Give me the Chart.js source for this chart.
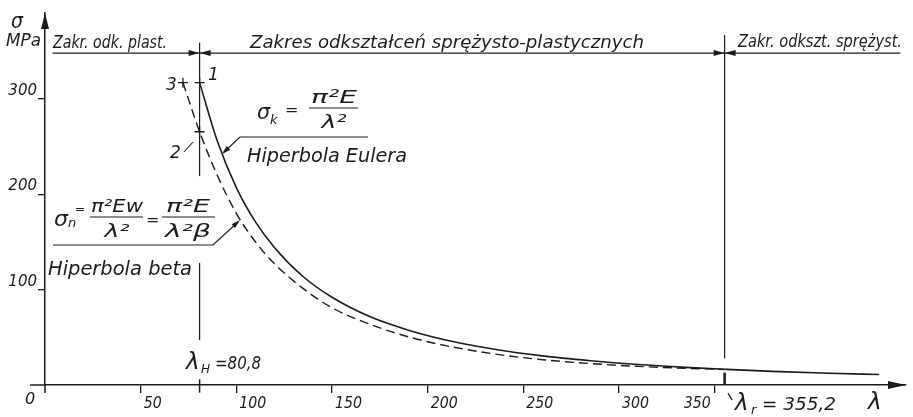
<!DOCTYPE html>
<html>
<head>
<meta charset="utf-8">
<script src="https://cdn.jsdelivr.net/npm/chart.js@4.4.1/dist/chart.umd.min.js"></script>
<style>
  html, body { margin: 0; background: #fff; }
</style>
</head>
<body>
<canvas id="chart" width="913" height="417"></canvas>
<script>
// Hiperbola Eulera (solid) and hiperbola beta (dashed)
const eulerLambda = [80.8, 90, 100, 110, 120, 135, 150, 170, 190, 210, 235, 260, 285, 310, 335, 355.2, 380, 410, 436];
const eulerSigma  = [317, 256, 207, 171, 144, 113.5, 92, 71.5, 57.5, 47, 37.5, 30.5, 25.5, 21.5, 18.5, 16.5, 14.3, 12.3, 11];
const betaLambda  = [72.1, 80.8, 90, 100, 110, 120, 135, 150, 170, 190, 210, 235, 260, 285, 310, 335, 355.2];
const betaSigma   = [317, 265.5, 220, 180, 150, 127, 101, 81, 63.5, 50.5, 41, 32.5, 26.5, 22.5, 19.5, 17.5, 16.3];
// marked points 1, 2, 3
const markLambda = [80.8, 80.8, 72.1];
const markSigma  = [317, 265.5, 317];
const xTicks = [50, 100, 150, 200, 250, 300, 350];
const yTicks = [100, 200, 300];
const lambdaH = 80.8;
const lambdaR = 355.2;
const rangeLevel = 348; // level of the range dimension line

const ink = "#1c1c1c";
const face = '"DejaVu Sans", "Liberation Sans", sans-serif';
const el = id => document.getElementById(id);
const pts = (xs, ys) => xs.map((x, i) => ({ x, y: ys[i] }));

function txt(ctx, s, x, y, size, width, align) {
  ctx.save();
  ctx.font = `italic ${size}px ${face}`;
  ctx.fillStyle = ink;
  ctx.textBaseline = "alphabetic";
  const w = ctx.measureText(s).width;
  ctx.translate(x, y);
  if (width) ctx.scale(width / w, 1);
  ctx.textAlign = align || "left";
  ctx.fillText(s, 0, 0);
  ctx.restore();
}
function line(ctx, coords, width) {
  ctx.beginPath();
  ctx.lineWidth = width || 1.2;
  coords.forEach(([x, y], i) => i ? ctx.lineTo(x, y) : ctx.moveTo(x, y));
  ctx.stroke();
}
function head(ctx, fx, fy, tx, ty, len, half) {
  const a = Math.atan2(ty - fy, tx - fx);
  ctx.beginPath();
  ctx.moveTo(tx, ty);
  ctx.lineTo(tx - len * Math.cos(a) + half * Math.sin(a), ty - len * Math.sin(a) - half * Math.cos(a));
  ctx.lineTo(tx - len * Math.cos(a) - half * Math.sin(a), ty - len * Math.sin(a) + half * Math.cos(a));
  ctx.closePath();
  ctx.fill();
}
function frac(ctx, num, den, cx, x0, x1, barY, size, wn, wd) {
  txt(ctx, num, cx, barY - 5, size, wn, "center");
  line(ctx, [[x0, barY], [x1, barY]], 1.2);
  txt(ctx, den, cx, barY + 20, size, wd, "center");
}

const sketch = {
  id: "sketch",
  afterDraw(chart) {
    const { ctx, scales: { x, y } } = chart;
    const X = v => x.getPixelForValue(v), Y = v => y.getPixelForValue(v);
    const x0 = X(0), y0 = Y(0);
    ctx.save();
    ctx.strokeStyle = ink;
    ctx.fillStyle = ink;
    ctx.lineCap = "butt";

    // axes extensions and arrows
    line(ctx, [[30, y0], [x0, y0]], 1.5);
    line(ctx, [[x0, y0], [x0, y0 + 8]], 1.5);
    head(ctx, x0, y0, x0, chart.chartArea.top, 16, 4);
    head(ctx, x0, y0, chart.chartArea.right, y0, 18, 4);

    // vertical lines at lambda H and lambda r
    line(ctx, [[X(lambdaH), Y(359)], [X(lambdaH), Y(219)]], 1.2);
    line(ctx, [[X(lambdaH), Y(128)], [X(lambdaH), Y(47)]], 1.2);
    line(ctx, [[X(lambdaH), Y(6)], [X(lambdaH), Y(-8)]], 1.5);
    line(ctx, [[X(lambdaR), Y(367)], [X(lambdaR), Y(28)]], 1.2);
    line(ctx, [[X(lambdaR), Y(13)], [X(lambdaR), y0]], 2.6);

    // range dimension line with arrows
    const ly = Y(rangeLevel);
    line(ctx, [[X(4), ly], [X(447), ly]], 1.3);
    [lambdaH, lambdaR].forEach(v => {
      head(ctx, X(v) - 12, ly, X(v), ly, 11, 3);
      head(ctx, X(v) + 12, ly, X(v), ly, 11, 3);
    });

    // leaders
    line(ctx, [[368, 137], [240, 137], [224, 152]], 1.2);
    head(ctx, 240, 137, 222, 154, 9, 2.6);
    line(ctx, [[53, 245], [213, 245], [238, 222]], 1.2);
    head(ctx, 213, 245, 240, 220, 9, 2.6);
    line(ctx, [[184, 152], [193, 142]], 1.1);

    // axis titles
    txt(ctx, "σ", 11, 28, 22, 12);
    txt(ctx, "MPa", 6, 46, 17, 35);
    txt(ctx, "λ", 868, 409, 23);
    txt(ctx, "0", 25, 404, 16);

    // x tick labels
    xTicks.forEach((v, i) => {
      const last = i === xTicks.length - 1;
      const s = String(v);
      txt(ctx, s, X(v) + (last ? -4 : 3), 408, 16, s.length * 9, last ? "right" : "left");
    });

    // ranges
    txt(ctx, "Zakr. odk. plast.", 53, 48, 17, 114);
    txt(ctx, "Zakres odkształceń sprężysto-plastycznych", 250, 48, 18, 394);
    txt(ctx, "Zakr. odkszt. sprężyst.", 738, 47, 17, 164);

    // point labels
    txt(ctx, "1", 208, 80, 17);
    txt(ctx, "3", 166, 90, 17);
    txt(ctx, "2", 170, 158, 17);

    // Euler formula
    txt(ctx, "σ", 257, 119, 21, 13);
    txt(ctx, "k", 270, 124, 13);
    txt(ctx, "=", 285, 115, 16);
    frac(ctx, "π²E", "λ²", 334, 309, 358, 108, 18, 46, 25);
    txt(ctx, "Hiperbola Eulera", 247, 162, 19, 160);

    // beta formula
    txt(ctx, "σ", 54, 226, 21, 14);
    txt(ctx, "n", 68, 227, 13);
    txt(ctx, "=", 75, 213, 12);
    frac(ctx, "π²Ew", "λ²", 117, 90, 143, 217, 17, 52, 25);
    txt(ctx, "=", 146, 225, 16);
    frac(ctx, "π²E", "λ²β", 188, 162, 215, 217, 17, 44, 46);
    txt(ctx, "Hiperbola beta", 48, 275, 19, 144);

    // lambda labels
    txt(ctx, "λ", 186, 369, 23);
    txt(ctx, "H", 201, 373, 12);
    txt(ctx, "=80,8", 215, 369, 17, 46);
    line(ctx, [[728, 393], [732, 400]], 1.3);
    txt(ctx, "λ", 735, 410, 23);
    txt(ctx, "r", 751, 414, 13);
    txt(ctx, "= 355,2", 762, 410, 17, 74);
    ctx.restore();
  }
};

new Chart(el("chart"), {
  type: "scatter",
  data: {
    datasets: [
      { label: "Hiperbola Eulera", data: pts(eulerLambda, eulerSigma), showLine: true,
        borderColor: ink, borderWidth: 1.6, pointRadius: 0, cubicInterpolationMode: "monotone" },
      { label: "Hiperbola beta", data: pts(betaLambda, betaSigma), showLine: true,
        borderColor: ink, borderWidth: 1.4, borderDash: [9, 5], pointRadius: 0, cubicInterpolationMode: "monotone" },
      { label: "Punkty", data: pts(markLambda, markSigma), showLine: false,
        pointStyle: "cross", pointRadius: 5, borderColor: ink, borderWidth: 1.3 }
    ]
  },
  options: {
    responsive: false,
    animation: false,
    devicePixelRatio: 1,
    layout: { padding: { left: 0, right: 7, top: 13, bottom: 0 } },
    plugins: { legend: { display: false }, tooltip: { enabled: false } },
    scales: {
      x: {
        type: "linear", min: 0, max: 450,
        afterBuildTicks: s => { s.ticks = xTicks.map(value => ({ value })); },
        afterFit: s => { s.height = 32; },
        ticks: { display: false },
        grid: { drawOnChartArea: false, drawTicks: true, tickLength: 8, color: ink, lineWidth: 1.3 },
        border: { display: true, color: ink, width: 1.5 }
      },
      y: {
        type: "linear", min: 0, max: 390,
        afterBuildTicks: s => { s.ticks = yTicks.map(value => ({ value })); },
        afterFit: s => { s.width = 45; },
        ticks: { color: ink, padding: 1, labelOffset: -8, font: { family: face, size: 15, style: "italic" } },
        grid: { drawOnChartArea: false, drawTicks: true, tickLength: 7, color: ink, lineWidth: 1.3 },
        border: { display: true, color: ink, width: 1.5 }
      }
    }
  },
  plugins: [sketch]
});
</script>
</body>
</html>
